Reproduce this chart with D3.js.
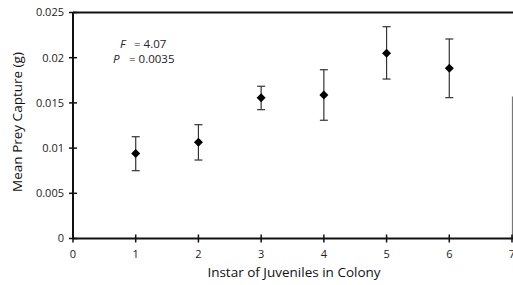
<!DOCTYPE html>
<html>
<head>
<meta charset="utf-8">
<script src="https://cdn.jsdelivr.net/npm/d3@7"></script>
<style>
  body { margin: 0; background: #fff; }
  svg { display: block; font-family: "Open Sans", "DejaVu Sans", sans-serif; }
</style>
</head>
<body>
<div id="chart"></div>
<script>
// instar of juveniles vs mean prey capture, with error bars
const instars = [1, 2, 3, 4, 5, 6];
const means = [0.0094, 0.01064, 0.01558, 0.01587, 0.02049, 0.01883];
const upper = [0.01126, 0.01259, 0.01684, 0.01867, 0.02343, 0.02207];
const lower = [0.0075, 0.00868, 0.01425, 0.01308, 0.01764, 0.01558];
const xTicks = [0, 1, 2, 3, 4, 5, 6, 7];
const yTicks = [0, 0.005, 0.01, 0.015, 0.02, 0.025];
const yTickLabels = ["0", "0.005", "0.01", "0.015", "0.02", "0.025"];

const W = 513, H = 285;
const svg = d3.select("#chart").append("svg")
    .attr("width", W)
    .attr("height", H);

const x = d3.scaleLinear().domain([0, 7]).range([73, 512]);
const y = d3.scaleLinear().domain([0, 0.025]).range([238.5, 12.5]);

// top border and partial right border
svg.append("line")
    .attr("x1", x(0)).attr("x2", W)
    .attr("y1", y(0.025)).attr("y2", y(0.025))
    .attr("stroke", "#111").attr("stroke-width", 2);
svg.append("line")
    .attr("x1", x(7) + 0.5).attr("x2", x(7) + 0.5)
    .attr("y1", y(0.0157)).attr("y2", y(0))
    .attr("stroke", "#777").attr("stroke-width", 1.2);

// y axis
const yAxis = svg.append("g");
yAxis.append("line")
    .attr("x1", x(0)).attr("x2", x(0))
    .attr("y1", y(0)).attr("y2", y(0.025))
    .attr("stroke", "#111").attr("stroke-width", 2);
yAxis.selectAll(".ytick")
    .data(yTicks)
    .enter().append("line")
    .attr("x1", x(0) - 4).attr("x2", x(0) + 4)
    .attr("y1", d => y(d)).attr("y2", d => y(d))
    .attr("stroke", "#111").attr("stroke-width", 1.5);
yAxis.selectAll(".ylab")
    .data(yTicks)
    .enter().append("text")
    .attr("x", x(0) - 9)
    .attr("y", d => y(d))
    .attr("dy", "0.35em")
    .attr("text-anchor", "end")
    .attr("font-size", 11)
    .attr("fill", "#222")
    .text((d, i) => yTickLabels[i]);

// x axis
const xAxis = svg.append("g");
xAxis.append("line")
    .attr("x1", x(0)).attr("x2", W)
    .attr("y1", y(0)).attr("y2", y(0))
    .attr("stroke", "#111").attr("stroke-width", 2);
xAxis.selectAll(".xtick")
    .data(xTicks)
    .enter().append("line")
    .attr("x1", d => x(d)).attr("x2", d => x(d))
    .attr("y1", y(0) - 4).attr("y2", y(0) + 4)
    .attr("stroke", "#111").attr("stroke-width", 1.5);
xAxis.selectAll(".xlab")
    .data(xTicks)
    .enter().append("text")
    .attr("x", d => x(d))
    .attr("y", y(0) + 19)
    .attr("text-anchor", "middle")
    .attr("font-size", 11)
    .attr("fill", "#222")
    .text(d => d);

// axis titles
svg.append("text")
    .attr("x", 294)
    .attr("y", 277)
    .attr("text-anchor", "middle")
    .attr("font-size", 13.5)
    .attr("fill", "#111")
    .text("Instar of Juveniles in Colony");
svg.append("text")
    .attr("transform", "translate(22,122) rotate(-90)")
    .attr("text-anchor", "middle")
    .attr("font-size", 13.5)
    .attr("fill", "#111")
    .text("Mean Prey Capture (g)");

// stats annotation
const note = svg.append("g").attr("font-size", 11.5).attr("fill", "#222");
note.append("text").attr("x", 120).attr("y", 47.5).attr("font-style", "italic").text("F");
note.append("text").attr("x", 134).attr("y", 47.5).text("= 4.07");
note.append("text").attr("x", 113).attr("y", 62.5).attr("font-style", "italic").text("P");
note.append("text").attr("x", 129).attr("y", 62.5).text("= 0.0035");

// error bars
const bars = svg.append("g").attr("stroke", "#333").attr("stroke-width", 1.2);
bars.selectAll(".stem")
    .data(instars)
    .enter().append("line")
    .attr("x1", d => x(d)).attr("x2", d => x(d))
    .attr("y1", (d, i) => y(upper[i])).attr("y2", (d, i) => y(lower[i]));
bars.selectAll(".capT")
    .data(instars)
    .enter().append("line")
    .attr("x1", d => x(d) - 4).attr("x2", d => x(d) + 4)
    .attr("y1", (d, i) => y(upper[i])).attr("y2", (d, i) => y(upper[i]));
bars.selectAll(".capB")
    .data(instars)
    .enter().append("line")
    .attr("x1", d => x(d) - 4).attr("x2", d => x(d) + 4)
    .attr("y1", (d, i) => y(lower[i])).attr("y2", (d, i) => y(lower[i]));

// diamond markers
svg.append("g").selectAll("path")
    .data(instars)
    .enter().append("path")
    .attr("d", "M0,-4.5L4.5,0L0,4.5L-4.5,0Z")
    .attr("transform", (d, i) => `translate(${x(d)},${y(means[i])})`)
    .attr("fill", "#000");
</script>
</body>
</html>
